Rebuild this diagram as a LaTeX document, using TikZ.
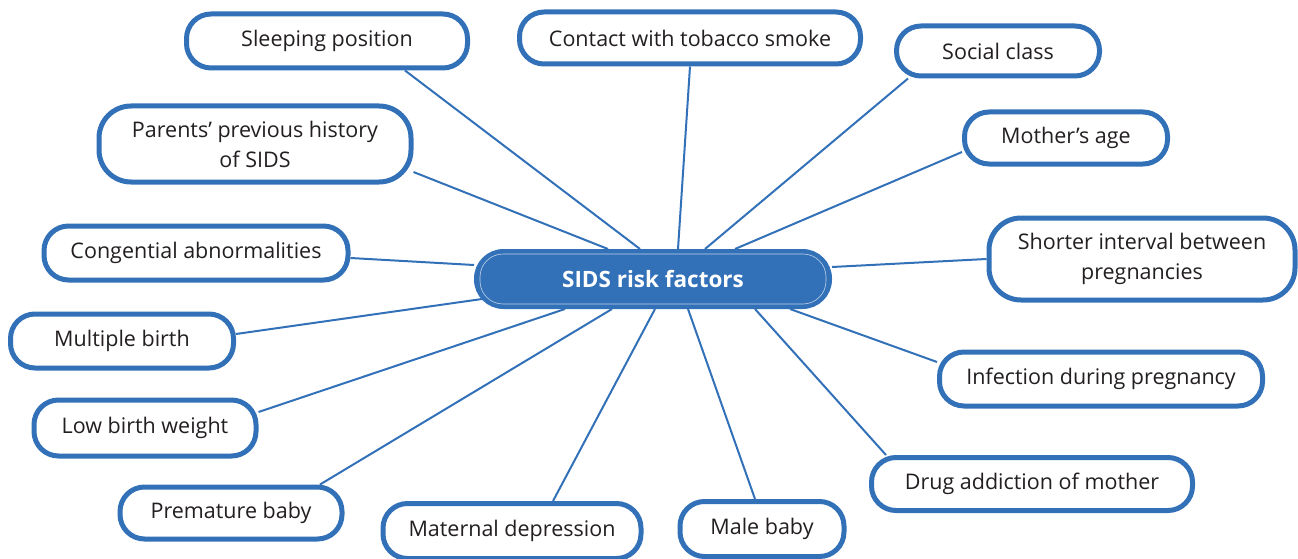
\documentclass[tikz,border=0pt]{standalone}
\usepackage{fontspec}
\setmainfont{Open Sans}
\usetikzlibrary{backgrounds}
\definecolor{sidsblue}{RGB}{50,113,184}
\definecolor{sidstext}{RGB}{35,31,32}
\tikzset{
  factor/.style={draw=sidsblue, line width=5pt, fill=white, rounded corners=24.5pt,
    text=sidstext, font=\fontsize{21.5}{30}\selectfont, align=center, inner sep=0pt},
  tallfactor/.style={factor, rounded corners=32pt},
  hub/.style={draw=sidsblue, line width=2pt, fill=sidsblue, rounded corners=28.5pt,
    text=white, font=\fontsize{22.5}{27}\selectfont\bfseries, inner sep=0pt,
    minimum width=356pt, minimum height=58pt},
  link/.style={draw=sidsblue, line width=2pt}
}
\begin{document}
\begin{tikzpicture}[x=1pt,y=-1pt]
\useasboundingbox (0,0) rectangle (1298,559);
\node[hub] (c) at (653,279) {SIDS risk factors};
\draw[white!70!sidsblue, line width=0.6pt, rounded corners=23pt]
  ([shift={(6pt,-5pt)}]c.north west) rectangle ([shift={(-6pt,5pt)}]c.south east);
\node[factor, minimum width=281pt, minimum height=54pt] (sleep) at (327,41) {Sleeping position};
\node[factor, minimum width=341pt, minimum height=52pt] (smoke) at (690,38) {Contact with tobacco smoke};
\node[factor, minimum width=203pt, minimum height=50pt] (social) at (998,51) {Social class};
\node[factor, minimum width=203pt, minimum height=52pt] (age) at (1066,138) {Mother’s age};
\node[tallfactor, minimum width=306pt, minimum height=82pt] (interval) at (1142,259) {Shorter interval between\\pregnancies};
\node[factor, minimum width=323pt, minimum height=54pt] (infect) at (1101,379) {Infection during pregnancy};
\node[factor, minimum width=321pt, minimum height=53pt] (drug) at (1032,484) {Drug addiction of mother};
\node[factor, minimum width=164pt, minimum height=55pt] (male) at (762,529) {Male baby};
\node[factor, minimum width=258pt, minimum height=55pt] (depr) at (512,531) {Maternal depression};
\node[factor, minimum width=222pt, minimum height=52pt] (prem) at (231,513) {Premature baby};
\node[factor, minimum width=222pt, minimum height=56pt] (low) at (145,428) {Low birth weight};
\node[factor, minimum width=223pt, minimum height=54pt] (mult) at (122,341) {Multiple birth};
\node[factor, minimum width=304pt, minimum height=54pt] (cong) at (196,253) {Congential abnormalities};
\node[tallfactor, minimum width=312pt, minimum height=76pt] (hist) at (255,144) {Parents’ previous history\\of SIDS};
\begin{scope}[on background layer]
\draw[link] ([xshift=78pt]sleep.south) -- ([xshift=-13pt]c.north);
\draw[link] (smoke.south) -- ([xshift=25pt]c.north);
\draw[link] ([xshift=-90pt]social.south) -- ([xshift=52pt]c.north);
\draw[link] ([yshift=-14pt]age.west) -- ([xshift=82pt]c.north);
\draw[link] (interval.west) -- ([yshift=12pt]c.east);
\draw[link] ([yshift=17pt]infect.west) -- ([xshift=137pt]c.south);
\draw[link] ([xshift=-146pt]drug.north) -- ([xshift=102pt]c.south);
\draw[link] ([xshift=-7pt]male.north) -- ([xshift=35pt]c.south);
\draw[link] ([xshift=41pt]depr.north) -- ([xshift=2pt]c.south);
\draw[link] ([xshift=89pt]prem.north) -- ([xshift=-41pt]c.south);
\draw[link] ([yshift=16pt]low.east) -- ([xshift=-88pt]c.south);
\draw[link] ([yshift=7pt]mult.east) -- ([yshift=-20pt,xshift=8pt]c.west);
\draw[link] ([yshift=-5pt]cong.east) -- ([yshift=14pt]c.west);
\draw[link] ([yshift=-28pt]hist.east) -- ([xshift=-45pt]c.north);
\end{scope}
\end{tikzpicture}
\end{document}
